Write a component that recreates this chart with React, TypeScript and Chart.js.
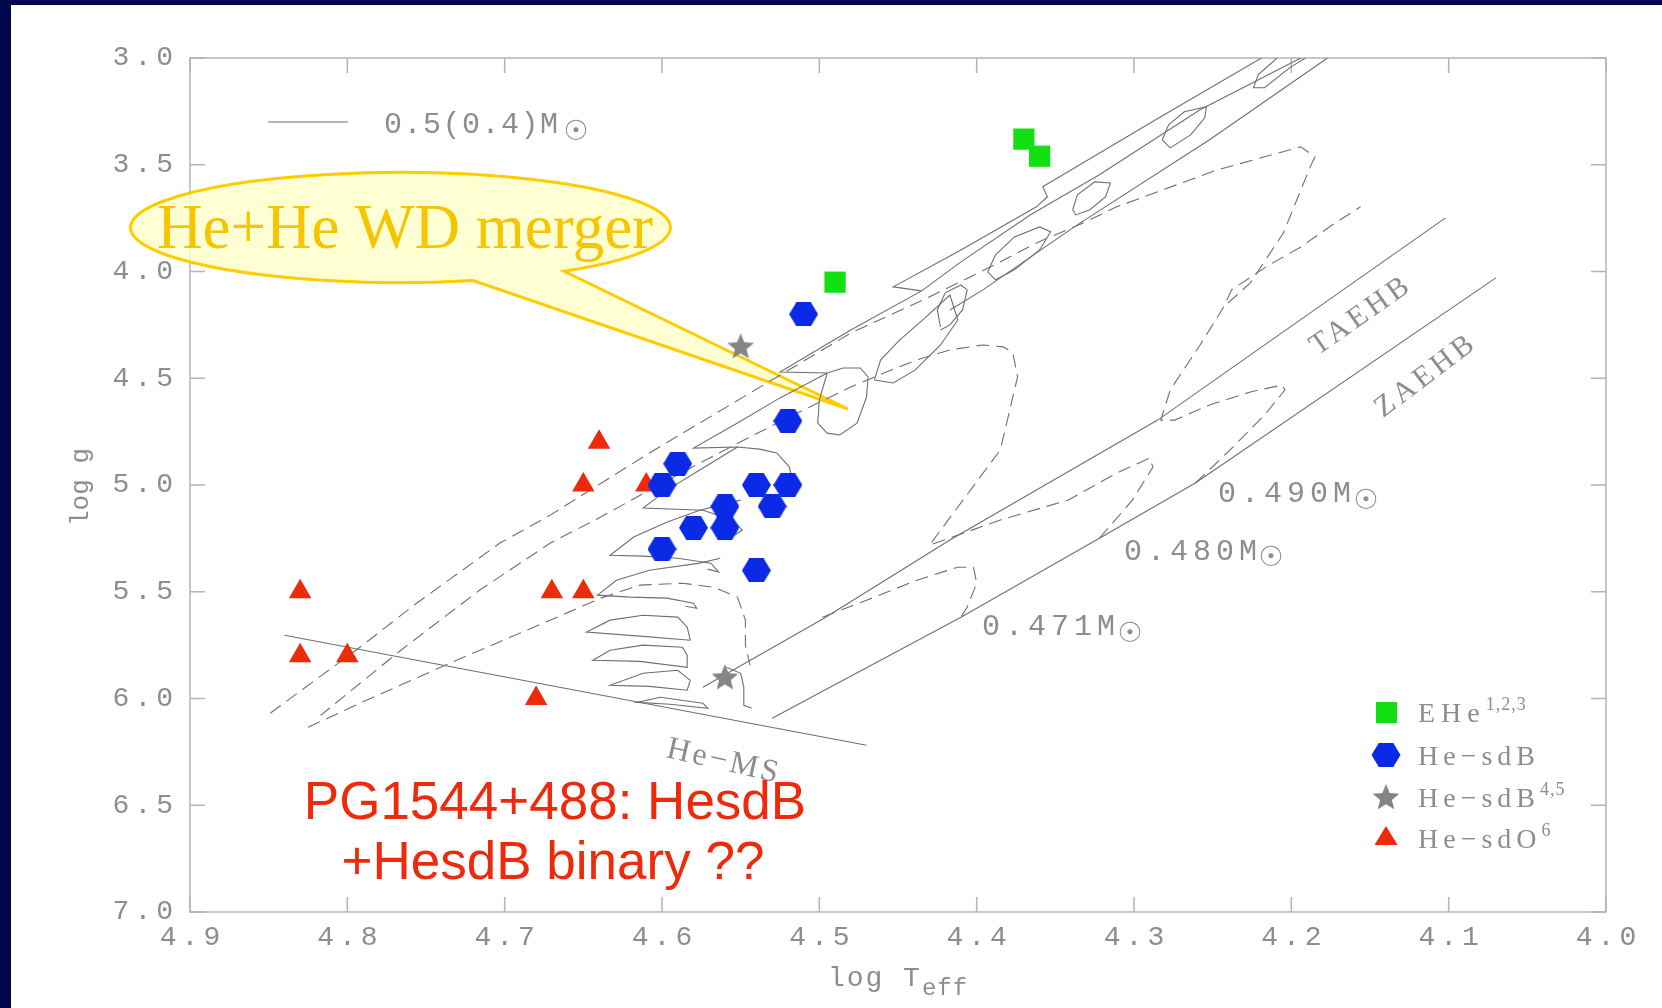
import React, { useEffect, useRef } from "react";
import { Chart, registerables } from "chart.js";

Chart.register(...registerables);

type P = [number, number];

// ---------- axis ----------
const X_MIN = 4.0;
const X_MAX = 4.9;
const X_STEP = 0.1;
const Y_MIN = 3.0;
const Y_MAX = 7.0;
const Y_STEP = 0.5;

// ---------- observed stars (log Teff, log g) ----------
const EHE: P[] = [[4.37, 3.38], [4.36, 3.46], [4.49, 4.05]];
const HE_SDB: P[] = [
  [4.51, 4.2], [4.52, 4.7], [4.59, 4.9], [4.6, 5.0], [4.54, 5.0], [4.52, 5.0],
  [4.53, 5.1], [4.56, 5.1], [4.58, 5.2], [4.56, 5.2], [4.6, 5.3], [4.54, 5.4],
];
const HE_SDB45: P[] = [[4.55, 4.35], [4.56, 5.9]];
const HE_SDO: P[] = [
  [4.64, 4.8], [4.65, 5.0], [4.61, 5.0], [4.83, 5.5], [4.67, 5.5], [4.65, 5.5],
  [4.83, 5.8], [4.8, 5.8], [4.68, 6.0],
];

// ---------- reference lines ----------
const HE_MS: P[] = [[4.84, 5.704], [4.47, 6.219]];
const TAEHB: P[] = [[4.574, 5.947], [4.497, 5.624], [4.417, 5.258], [4.285, 4.696], [4.102, 3.749]];
const ZAEHB: P[] = [[4.53, 6.093], [4.41, 5.619], [4.322, 5.249], [4.261, 4.991], [4.07, 4.03]];

// ---------- EHB tracks (dashed) ----------
const TRACK_471: P[] = [
  [4.498, 5.619], [4.47, 5.54], [4.438, 5.446], [4.412, 5.385], [4.402, 5.385],
  [4.4, 5.46], [4.406, 5.572], [4.41, 5.619],
];
const TRACK_480: P[] = [
  [4.322, 5.249], [4.301, 5.071], [4.288, 4.916], [4.29, 4.874], [4.311, 4.944],
  [4.342, 5.071], [4.385, 5.164], [4.43, 5.282], [4.385, 4.836], [4.374, 4.494],
  [4.377, 4.382], [4.383, 4.353], [4.396, 4.344], [4.417, 4.367], [4.438, 4.414],
  [4.459, 4.475], [4.48, 4.541], [4.501, 4.616], [4.523, 4.696], [4.544, 4.775],
  [4.576, 4.897], [4.608, 5.024], [4.639, 5.15], [4.671, 5.272], [4.716, 5.493],
  [4.766, 5.774], [4.817, 6.079],
];
const TRACK_490: P[] = [
  [4.261, 4.991], [4.239, 4.836], [4.217, 4.672], [4.204, 4.555], [4.206, 4.532],
  [4.226, 4.564], [4.252, 4.625], [4.274, 4.696], [4.283, 4.696], [4.277, 4.555],
  [4.258, 4.344], [4.243, 4.166], [4.238, 4.086], [4.216, 3.978], [4.194, 3.885],
  [4.172, 3.772], [4.156, 3.697],
];
// ---------- 0.4 Msun merger tracks (dashed) ----------
const MERGER_04_A: P[] = [
  [4.849, 6.069], [4.792, 5.76], [4.756, 5.554], [4.703, 5.272], [4.671, 5.141],
  [4.608, 4.85], [4.544, 4.569], [4.48, 4.288], [4.434, 4.133], [4.391, 3.978],
  [4.362, 3.866], [4.332, 3.772], [4.311, 3.697], [4.247, 3.524], [4.194, 3.416],
  [4.185, 3.463], [4.188, 3.51], [4.205, 3.819], [4.226, 4.053], [4.243, 4.166],
];
const MERGER_04_B: P[] = [
  [4.825, 6.135], [4.792, 6.022], [4.735, 5.835], [4.671, 5.633], [4.639, 5.53],
  [4.614, 5.469], [4.587, 5.46], [4.567, 5.479], [4.552, 5.525], [4.547, 5.633],
  [4.547, 5.75], [4.544, 5.844],
];
// ---------- 0.5 Msun merger tracks (solid) ----------
const MERGER_05_MAIN: P[] = [
  [4.219, 3.0], [4.283, 3.275], [4.358, 3.603], [4.355, 3.65], [4.362, 3.697],
  [4.41, 3.899], [4.453, 4.072], [4.435, 4.091], [4.48, 4.274], [4.525, 4.471],
  [4.495, 4.475], [4.5, 4.602], [4.501, 4.71], [4.495, 4.757], [4.487, 4.766],
  [4.476, 4.71], [4.47, 4.588], [4.469, 4.494], [4.474, 4.452], [4.485, 4.452],
  [4.495, 4.475], [4.525, 4.592], [4.552, 4.71], [4.58, 4.827], [4.552, 4.822],
  [4.538, 4.832], [4.527, 4.85], [4.519, 4.916], [4.517, 4.991], [4.52, 5.024],
];
const MERGER_05_LOW: P[] = [[4.177, 3.0], [4.252, 3.383], [4.338, 3.791], [4.396, 4.086], [4.417, 4.18]];
const MERGER_05_MID: P[] = [[4.194, 3.0], [4.258, 3.242], [4.322, 3.547], [4.366, 3.735], [4.41, 3.955], [4.435, 4.091]];
const LOOP_0: P[] = [[4.209, 3.0], [4.221, 3.078], [4.224, 3.139], [4.217, 3.139], [4.201, 3.045], [4.191, 3.0]];
const LOOP_1: P[] = [[4.282, 3.383], [4.278, 3.313], [4.268, 3.252], [4.254, 3.228], [4.255, 3.28], [4.264, 3.36], [4.277, 3.421], [4.282, 3.383]];
const LOOP_2: P[] = [[4.339, 3.711], [4.336, 3.641], [4.325, 3.58], [4.315, 3.585], [4.318, 3.65], [4.328, 3.711], [4.337, 3.735], [4.339, 3.711]];
const LOOP_3: P[] = [[4.393, 4.002], [4.388, 3.922], [4.376, 3.838], [4.36, 3.791], [4.353, 3.814], [4.36, 3.899], [4.376, 3.992], [4.388, 4.039], [4.393, 4.002]];
const LOOP_4: P[] = [[4.423, 4.26], [4.425, 4.18], [4.42, 4.1], [4.41, 4.063], [4.406, 4.086], [4.409, 4.18], [4.417, 4.25], [4.423, 4.274]];
const LOOP_6: P[] = [[4.465, 4.508], [4.461, 4.414], [4.449, 4.321], [4.433, 4.218], [4.417, 4.11], [4.412, 4.227], [4.423, 4.344], [4.439, 4.461], [4.453, 4.522], [4.465, 4.508]];
const FINGER_1: P[] = [[4.552, 4.822], [4.576, 4.93], [4.597, 5.024], [4.612, 5.108], [4.574, 5.118], [4.555, 5.164], [4.549, 5.211], [4.554, 5.235]];
const FINGER_2: P[] = [[4.55, 5.071], [4.576, 5.118], [4.597, 5.174], [4.618, 5.244], [4.633, 5.329], [4.612, 5.333], [4.59, 5.343], [4.569, 5.366], [4.564, 5.408], [4.571, 5.394]];
const FINGER_3: P[] = [[4.563, 5.343], [4.576, 5.366], [4.608, 5.399], [4.629, 5.446], [4.641, 5.516], [4.62, 5.525], [4.597, 5.53], [4.58, 5.554], [4.578, 5.577], [4.585, 5.568]];
const FINGER_4: P[] = [[4.584, 5.666], [4.59, 5.619], [4.612, 5.61], [4.633, 5.633], [4.648, 5.689], [4.614, 5.708], [4.582, 5.727], [4.584, 5.666]];
const FINGER_5: P[] = [[4.587, 5.76], [4.612, 5.75], [4.633, 5.774], [4.644, 5.821], [4.614, 5.826], [4.584, 5.854], [4.584, 5.797], [4.587, 5.76]];
const FINGER_6: P[] = [[4.582, 5.915], [4.59, 5.868], [4.612, 5.882], [4.633, 5.938], [4.608, 5.943], [4.584, 5.961], [4.582, 5.915]];
const FINGER_7: P[] = [[4.574, 6.022], [4.601, 5.994], [4.616, 6.018], [4.595, 6.027], [4.571, 6.046], [4.574, 6.022]];
const NEAR_STAR: P[] = [[4.559, 5.854], [4.55, 5.882], [4.548, 5.947], [4.548, 6.032], [4.543, 6.046]];

const SOLID_TRACKS: P[][] = [
  HE_MS, TAEHB, ZAEHB, MERGER_05_MAIN, MERGER_05_LOW, MERGER_05_MID,
  LOOP_0, LOOP_1, LOOP_2, LOOP_3, LOOP_4, LOOP_6,
  FINGER_1, FINGER_2, FINGER_3, FINGER_4, FINGER_5, FINGER_6, FINGER_7, NEAR_STAR,
];
const DASHED_TRACKS: P[][] = [TRACK_471, TRACK_480, TRACK_490, MERGER_04_A, MERGER_04_B];

// ---------- styles ----------
const NAVY = "#01084b";
const GREEN = "#12e012";
const BLUE = "#0a2ae6";
const GREY_STAR = "#858585";
const RED = "#ee2a0c";
const LINE = "#6f6f6f";
const FRAME = "#b4b4b4";
const TXT = "#8d8d8d";
const MONO = '"Liberation Mono", "DejaVu Sans Mono", monospace';
const SERIF = '"Liberation Serif", "Times New Roman", serif';
const SANS = '"Liberation Sans", Arial, sans-serif';
const SYM = '"DejaVu Sans", sans-serif';

const toXY = (pts: P[]) => pts.map(([x, y]) => ({ x, y }));

function hexPath(g: CanvasRenderingContext2D, cx: number, cy: number, w: number, h: number) {
  g.beginPath();
  g.moveTo(cx - w / 2, cy);
  g.lineTo(cx - w / 4, cy - h / 2);
  g.lineTo(cx + w / 4, cy - h / 2);
  g.lineTo(cx + w / 2, cy);
  g.lineTo(cx + w / 4, cy + h / 2);
  g.lineTo(cx - w / 4, cy + h / 2);
  g.closePath();
}
function makeHexagon(color: string, w: number, h: number) {
  const c = document.createElement("canvas");
  c.width = w;
  c.height = h;
  const g = c.getContext("2d")!;
  g.fillStyle = color;
  hexPath(g, w / 2, h / 2, w, h);
  g.fill();
  return c;
}
function starPath(g: CanvasRenderingContext2D, cx: number, cy: number, R: number, r: number) {
  g.beginPath();
  for (let i = 0; i < 10; i++) {
    const a = -Math.PI / 2 + (i * Math.PI) / 5;
    const rad = i % 2 === 0 ? R : r;
    const px = cx + Math.cos(a) * rad;
    const py = cy + Math.sin(a) * rad;
    if (i === 0) g.moveTo(px, py);
    else g.lineTo(px, py);
  }
  g.closePath();
}
function makeStar(color: string, size: number) {
  const c = document.createElement("canvas");
  c.width = size;
  c.height = size;
  const g = c.getContext("2d")!;
  g.fillStyle = color;
  starPath(g, size / 2, size / 2 + 1, size / 2, size * 0.22);
  g.fill();
  return c;
}

type Run = { s: string; font: string; dy?: number; sp?: number };
function runsWidth(ctx: CanvasRenderingContext2D, runs: Run[]) {
  let w = 0;
  for (const r of runs) {
    ctx.font = r.font;
    (ctx as any).letterSpacing = (r.sp || 0) + "px";
    w += ctx.measureText(r.s).width;
  }
  return w;
}
function drawRuns(
  ctx: CanvasRenderingContext2D,
  runs: Run[],
  x: number,
  y: number,
  color: string,
  align: "left" | "center" = "left",
  rot = 0
) {
  ctx.save();
  ctx.translate(x, y);
  if (rot) ctx.rotate((rot * Math.PI) / 180);
  ctx.fillStyle = color;
  ctx.textAlign = "left";
  ctx.textBaseline = "alphabetic";
  let cx = 0;
  if (align === "center") cx = -runsWidth(ctx, runs) / 2;
  for (const r of runs) {
    ctx.font = r.font;
    (ctx as any).letterSpacing = (r.sp || 0) + "px";
    ctx.fillText(r.s, cx, r.dy || 0);
    cx += ctx.measureText(r.s).width;
  }
  ctx.restore();
}
function drawSun(ctx: CanvasRenderingContext2D, x: number, y: number, size: number) {
  ctx.save();
  ctx.font = `${size}px ${SYM}`;
  ctx.fillStyle = TXT;
  ctx.textAlign = "center";
  ctx.textBaseline = "middle";
  ctx.fillText("☉", x, y);
  ctx.restore();
}

const decor = {
  id: "decor",
  beforeDatasetsDraw(chart: any) {
    const { ctx, chartArea: a, scales } = chart;
    const xs = scales.x;
    const ys = scales.y;
    ctx.save();
    ctx.strokeStyle = FRAME;
    ctx.lineWidth = 1.5;
    ctx.strokeRect(a.left, a.top, a.right - a.left, a.bottom - a.top);
    ctx.beginPath();
    for (const t of xs.ticks) {
      const px = xs.getPixelForValue(t.value);
      ctx.moveTo(px, a.bottom);
      ctx.lineTo(px, a.bottom - 15);
      ctx.moveTo(px, a.top);
      ctx.lineTo(px, a.top + 15);
    }
    for (const t of ys.ticks) {
      const py = ys.getPixelForValue(t.value);
      ctx.moveTo(a.left, py);
      ctx.lineTo(a.left + 15, py);
      ctx.moveTo(a.right, py);
      ctx.lineTo(a.right - 15, py);
    }
    ctx.stroke();

    // tick labels
    const sp = 5;
    ctx.fillStyle = TXT;
    ctx.font = `28px ${MONO}`;
    (ctx as any).letterSpacing = sp + "px";
    ctx.textBaseline = "middle";
    ctx.textAlign = "center";
    for (const t of xs.ticks) {
      const px = xs.getPixelForValue(t.value);
      ctx.fillText(Number(t.value).toFixed(1), px + sp / 2, a.bottom + 26);
    }
    ctx.textAlign = "right";
    for (const t of ys.ticks) {
      const py = ys.getPixelForValue(t.value);
      ctx.fillText(Number(t.value).toFixed(1), a.left - 17 + sp, py);
    }
    (ctx as any).letterSpacing = "0px";
    ctx.restore();

    // axis titles
    drawRuns(ctx, [{ s: "log g", font: `26px ${MONO}` }], 88, 487, TXT, "center", -90);
    drawRuns(
      ctx,
      [
        { s: "log T", font: `28px ${MONO}`, sp: 2 },
        { s: "eff", font: `24px ${MONO}`, dy: 9, sp: 1 },
      ],
      898,
      986,
      TXT,
      "center"
    );

    // speech bubble (semi-transparent, under the tracks and symbols)
    const cx = 400.5;
    const cy = 227.5;
    const rx = 270;
    const ry = 55;
    const t1 = (74.4 * Math.PI) / 180;
    const t2 = (52.7 * Math.PI) / 180;
    ctx.save();
    ctx.beginPath();
    ctx.ellipse(cx, cy, rx, ry, 0, t1, t2, false);
    ctx.lineTo(848, 409);
    ctx.closePath();
    ctx.fillStyle = "rgba(255,255,205,0.85)";
    ctx.fill();
    ctx.strokeStyle = "#ffcc00";
    ctx.lineWidth = 3;
    ctx.stroke();
    ctx.restore();
    drawRuns(ctx, [{ s: "He+He WD merger", font: `63px ${SERIF}` }], 405, 248, "#f5c500", "center");
  },
  afterDatasetsDraw(chart: any) {
    const { ctx } = chart;

    // mass legend (top-left)
    ctx.save();
    ctx.strokeStyle = LINE;
    ctx.lineWidth = 1.2;
    ctx.beginPath();
    ctx.moveTo(268, 122);
    ctx.lineTo(348, 122);
    ctx.stroke();
    ctx.restore();
    drawRuns(ctx, [{ s: "0.5(0.4)M", font: `30px ${MONO}`, sp: 1.5 }], 384, 133, TXT);
    drawSun(ctx, 576, 133, 28);

    // track mass labels
    drawRuns(ctx, [{ s: "0.490M", font: `30px ${MONO}`, sp: 5 }], 1218, 502, TXT);
    drawSun(ctx, 1366, 502, 28);
    drawRuns(ctx, [{ s: "0.480M", font: `30px ${MONO}`, sp: 5 }], 1124, 560, TXT);
    drawSun(ctx, 1271, 559, 28);
    drawRuns(ctx, [{ s: "0.471M", font: `30px ${MONO}`, sp: 5 }], 982, 635, TXT);
    drawSun(ctx, 1130, 635, 28);

    drawRuns(ctx, [{ s: "TAEHB", font: `30px ${SERIF}`, sp: 4 }], 1366, 322, TXT, "center", -35);
    drawRuns(ctx, [{ s: "ZAEHB", font: `30px ${SERIF}`, sp: 4 }], 1431, 382, TXT, "center", -37);
    drawRuns(ctx, [{ s: "He−MS", font: `32px ${SERIF}`, sp: 3 }], 722, 770, TXT, "center", 13);

    // symbol legend (bottom-right)
    const lx = 1386;
    const rows = [712, 755, 797, 838];
    ctx.save();
    ctx.fillStyle = GREEN;
    ctx.fillRect(lx - 10, rows[0] - 10, 21, 21);
    ctx.fillStyle = BLUE;
    hexPath(ctx, lx, rows[1], 29, 24);
    ctx.fill();
    ctx.fillStyle = GREY_STAR;
    starPath(ctx, lx, rows[2] + 1, 14, 6.2);
    ctx.fill();
    ctx.fillStyle = RED;
    ctx.beginPath();
    ctx.moveTo(lx, rows[3] - 12);
    ctx.lineTo(lx + 11.5, rows[3] + 7);
    ctx.lineTo(lx - 11.5, rows[3] + 7);
    ctx.closePath();
    ctx.fill();
    ctx.restore();
    const lf = `28px ${SERIF}`;
    const sf = `18px ${SERIF}`;
    drawRuns(ctx, [{ s: "EHe", font: lf, sp: 6 }, { s: "1,2,3", font: sf, dy: -12, sp: 1 }], 1418, rows[0] + 10, TXT);
    drawRuns(ctx, [{ s: "He−sdB", font: lf, sp: 5 }], 1418, rows[1] + 10, TXT);
    drawRuns(ctx, [{ s: "He−sdB", font: lf, sp: 5 }, { s: "4,5", font: sf, dy: -12, sp: 1 }], 1418, rows[2] + 10, TXT);
    drawRuns(ctx, [{ s: "He−sdO", font: lf, sp: 5 }, { s: "6", font: sf, dy: -12 }], 1418, rows[3] + 10, TXT);
  },
  afterDraw(chart: any) {
    const { ctx } = chart;
    // red annotation
    drawRuns(ctx, [{ s: "PG1544+488: HesdB", font: `53px ${SANS}` }], 555, 819, RED, "center");
    drawRuns(ctx, [{ s: "+HesdB binary ??", font: `53px ${SANS}` }], 553, 879, RED, "center");
  },
};

export default function App() {
  const ref = useRef<HTMLCanvasElement | null>(null);
  useEffect(() => {
    if (!ref.current) return;
    const hexImg = makeHexagon(BLUE, 29, 24);
    const starImg = makeStar(GREY_STAR, 28);
    const datasets: any[] = [
      { data: toXY(EHE), pointStyle: "rect", pointRadius: 15, backgroundColor: GREEN, borderWidth: 0, order: 0 },
      { data: toXY(HE_SDB), pointStyle: hexImg, pointRadius: 12, order: 0 },
      { data: toXY(HE_SDB45), pointStyle: starImg, pointRadius: 12, order: 0 },
      { data: toXY(HE_SDO), pointStyle: "triangle", pointRadius: 13, backgroundColor: RED, borderWidth: 0, order: 0 },
      ...SOLID_TRACKS.map((t) => ({
        data: toXY(t), showLine: true, borderColor: LINE, borderWidth: 1.1, pointRadius: 0, order: 1, tension: 0,
      })),
      ...DASHED_TRACKS.map((t) => ({
        data: toXY(t), showLine: true, borderColor: LINE, borderWidth: 1.1, borderDash: [13, 7], pointRadius: 0, order: 1, tension: 0,
      })),
    ];
    const chart = new Chart(ref.current, {
      type: "scatter",
      data: { datasets },
      options: {
        responsive: false,
        animation: false,
        events: [],
        layout: { padding: { left: 190, top: 58, right: 56, bottom: 96 } },
        scales: {
          x: {
            type: "linear", min: X_MIN, max: X_MAX, reverse: true,
            ticks: { display: false, stepSize: X_STEP },
            grid: { display: false, drawTicks: false }, border: { display: false },
            afterFit: (s: any) => { s.height = 0; },
          },
          y: {
            type: "linear", min: Y_MIN, max: Y_MAX, reverse: true,
            ticks: { display: false, stepSize: Y_STEP },
            grid: { display: false, drawTicks: false }, border: { display: false },
            afterFit: (s: any) => { s.width = 0; },
          },
        },
        plugins: { legend: { display: false }, tooltip: { enabled: false } },
      },
      plugins: [decor],
    } as any);
    return () => chart.destroy();
  }, []);
  return (
    <div style={{ position: "fixed", left: 0, top: 0, width: 1662, height: 1008, background: NAVY, overflow: "hidden" }}>
      <div style={{ position: "absolute", left: 11, top: 5, right: 0, bottom: 0, background: "#ffffff" }} />
      <canvas ref={ref} width={1662} height={1008} style={{ position: "absolute", left: 0, top: 0, width: 1662, height: 1008 }} />
    </div>
  );
}
